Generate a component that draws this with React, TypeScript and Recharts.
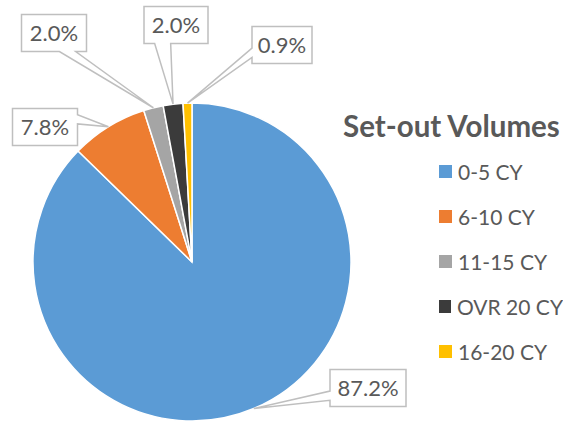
import React from 'react';
import { PieChart, Pie, Cell, Legend } from 'recharts';

const CATEGORIES = ['0-5 CY', '6-10 CY', '11-15 CY', 'OVR 20 CY', '16-20 CY'];
const SHARES = [87.2, 7.8, 2.0, 2.0, 0.9];
const COLORS = ['#5B9BD5', '#ED7D31', '#A5A5A5', '#3B3B3B', '#FFC000'];

// callout box centres (layout only), same order as CATEGORIES
const CALLOUT_POS = [
  { x: 368, y: 388, w: 76 },
  { x: 45, y: 127, w: 65 },
  { x: 54, y: 33, w: 65 },
  { x: 176, y: 25, w: 64 },
  { x: 282, y: 45, w: 60 },
];

const TEXT = '#595959';
const FONT = 'Lato, "Open Sans", sans-serif';
const RADIAN = Math.PI / 180;

const data = CATEGORIES.map((name, i) => ({ name, value: SHARES[i] }));

// rectangle with a wedge pointing at (tx, ty), like an Excel data callout
function calloutPath(l: number, t: number, w: number, h: number, tx: number, ty: number) {
  const r = l + w;
  const b = t + h;
  const dx = tx - (l + w / 2);
  const dy = ty - (t + h / 2);
  const x1 = l + (w * (dx > 0 ? 7 : 2)) / 12;
  const x2 = l + (w * (dx > 0 ? 10 : 5)) / 12;
  const y1 = t + (h * (dy > 0 ? 7 : 2)) / 12;
  const y2 = t + (h * (dy > 0 ? 10 : 5)) / 12;
  const vertical = Math.abs(dy) > Math.abs((dx * h) / w);
  if (vertical && dy > 0) {
    return `M${l},${t}H${r}V${b}H${x2}L${tx},${ty}L${x1},${b}H${l}Z`;
  }
  if (vertical) {
    return `M${l},${t}H${x1}L${tx},${ty}L${x2},${t}H${r}V${b}H${l}Z`;
  }
  if (dx > 0) {
    return `M${l},${t}H${r}V${y1}L${tx},${ty}L${r},${y2}V${b}H${l}Z`;
  }
  return `M${l},${t}H${r}V${b}H${l}V${y2}L${tx},${ty}L${l},${y1}Z`;
}

const renderCallout = (props: any) => {
  const { cx, cy, midAngle, outerRadius, index, value } = props;
  const pos = CALLOUT_POS[index];
  if (!pos) return null;
  const tx = cx + outerRadius * Math.cos(-midAngle * RADIAN);
  const ty = cy + outerRadius * Math.sin(-midAngle * RADIAN);
  const h = 37;
  const l = pos.x - pos.w / 2;
  const t = pos.y - h / 2;
  return (
    <g key={`callout-${index}`}>
      <path d={calloutPath(l, t, pos.w, h, tx, ty)} fill="#fff" stroke="#BFBFBF" strokeWidth={1.5} />
      <text x={pos.x} y={pos.y} dy="0.36em" textAnchor="middle" fill={TEXT} fontSize={22} fontFamily={FONT}>
        {`${Number(value).toFixed(1)}%`}
      </text>
    </g>
  );
};

const LegendBox = () => (
  <div style={{ fontFamily: FONT, color: TEXT }}>
    <div style={{ fontWeight: 700, fontSize: 29.5, lineHeight: '32px', whiteSpace: 'nowrap' }}>
      Set-out Volumes
    </div>
    <div style={{ marginLeft: 96, marginTop: 7 }}>
      {CATEGORIES.map((c, i) => (
        <div key={c} style={{ display: 'flex', alignItems: 'center', height: 45 }}>
          <span style={{ width: 13, height: 13, background: COLORS[i], display: 'inline-block', marginRight: 6 }} />
          <span style={{ fontSize: 21, whiteSpace: 'nowrap' }}>{c}</span>
        </div>
      ))}
    </div>
  </div>
);

export default function App() {
  return (
    <div style={{ position: 'absolute', left: 0, top: 0, width: 563, height: 422, background: '#fff' }}>
      <PieChart width={563} height={422} margin={{ top: 0, right: 0, bottom: 0, left: 0 }}>
        <Pie
          data={data}
          dataKey="value"
          nameKey="name"
          cx={192}
          cy={262}
          outerRadius={159}
          startAngle={90}
          endAngle={-270}
          stroke="#fff"
          strokeWidth={1.5}
          label={renderCallout}
          labelLine={false}
          isAnimationActive={false}
        >
          {data.map((d, i) => (
            <Cell key={d.name} fill={COLORS[i]} />
          ))}
        </Pie>
        <Legend
          layout="vertical"
          align="right"
          verticalAlign="top"
          content={<LegendBox />}
          wrapperStyle={{ left: 343, top: 110, right: 'auto', width: 220 }}
        />
      </PieChart>
    </div>
  );
}
